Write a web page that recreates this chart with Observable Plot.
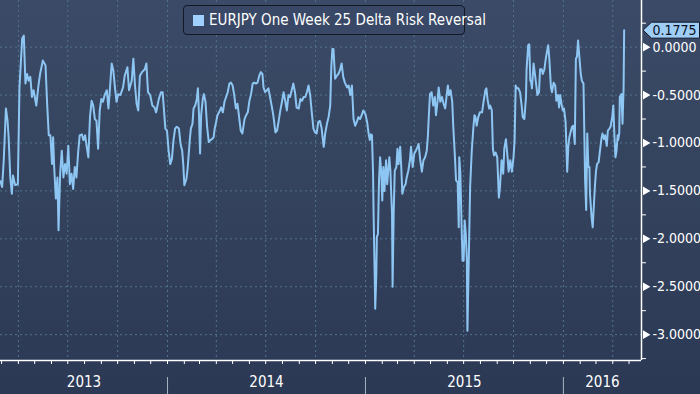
<!DOCTYPE html>
<html>
<head>
<meta charset="utf-8">
<script src="https://cdn.jsdelivr.net/npm/d3@7"></script>
<script src="https://cdn.jsdelivr.net/npm/@observablehq/plot@0.6"></script>
<style>
html,body{margin:0;padding:0;}
body{width:700px;height:394px;overflow:hidden;position:relative;
  background:linear-gradient(to bottom,#3b4a67 0%,#36455f 35%,#313f5b 65%,#2c3955 100%);
  font-family:"Liberation Sans Narrow","DejaVu Sans Condensed","Arial Narrow",sans-serif;}
#chart svg{display:block;background:transparent;}
#legend{position:absolute;left:183px;top:5px;width:282px;height:30px;box-sizing:border-box;
  border:1.5px solid #121826;border-radius:4px;background:#384866;display:flex;align-items:center;
  color:#ffffff;font-size:15px;white-space:nowrap;}
#legend .sw{width:11px;height:11px;background:#a0d0ff;margin:0 5px 0 9px;flex:none;}
</style>
</head>
<body>
<div id="chart"></div>
<div id="legend"><span class="sw"></span><span id="legendText"></span></div>
<script>
const seriesName = "EURJPY One Week 25 Delta Risk Reversal";

const dates = [
"2013-02-27","2013-03-02","2013-03-05","2013-03-09","2013-03-12","2013-03-14","2013-03-17","2013-03-20","2013-03-22","2013-03-26",
"2013-03-31","2013-04-03","2013-04-08","2013-04-11","2013-04-14","2013-04-17","2013-04-20","2013-04-23","2013-04-26","2013-04-29",
"2013-05-04","2013-05-08","2013-05-11","2013-05-16","2013-05-21","2013-05-24","2013-05-27","2013-05-30","2013-06-02","2013-06-04",
"2013-06-06","2013-06-09","2013-06-12","2013-06-14","2013-06-17","2013-06-20","2013-06-23","2013-06-26","2013-06-29","2013-07-02",
"2013-07-05","2013-07-08","2013-07-11","2013-07-14","2013-07-17","2013-07-20","2013-07-23","2013-07-27","2013-07-30","2013-08-02",
"2013-08-05","2013-08-08","2013-08-11","2013-08-14","2013-08-17","2013-08-20","2013-08-23","2013-08-26","2013-08-29","2013-09-01",
"2013-09-04","2013-09-07","2013-09-11","2013-09-14","2013-09-17","2013-09-20","2013-09-23","2013-09-26","2013-09-29","2013-10-02",
"2013-10-06","2013-10-11","2013-10-14","2013-10-19","2013-10-22","2013-10-27","2013-10-30","2013-11-02","2013-11-05","2013-11-08",
"2013-11-11","2013-11-15","2013-11-20","2013-11-23","2013-11-26","2013-11-30","2013-12-04","2013-12-08","2013-12-11","2013-12-16",
"2013-12-20","2013-12-23","2013-12-28","2013-12-31","2014-01-03","2014-01-06","2014-01-09","2014-01-12","2014-01-15","2014-01-18",
"2014-01-22","2014-01-25","2014-01-28","2014-01-30","2014-02-01","2014-02-05","2014-02-07","2014-02-11","2014-02-13","2014-02-16",
"2014-02-18","2014-02-21","2014-02-24","2014-02-26","2014-02-28","2014-03-02","2014-03-04","2014-03-07","2014-03-09","2014-03-12",
"2014-03-15","2014-03-18","2014-03-21","2014-03-24","2014-03-27","2014-03-29","2014-03-31","2014-04-03","2014-04-06","2014-04-10",
"2014-04-13","2014-04-16","2014-04-19","2014-04-22","2014-04-25","2014-04-28","2014-05-01","2014-05-04","2014-05-07","2014-05-10",
"2014-05-13","2014-05-16","2014-05-19","2014-05-23","2014-05-26","2014-05-29","2014-06-01","2014-06-04","2014-06-07","2014-06-10",
"2014-06-13","2014-06-16","2014-06-19","2014-06-22","2014-06-25","2014-06-27","2014-06-30","2014-07-03","2014-07-06","2014-07-09",
"2014-07-12","2014-07-15","2014-07-19","2014-07-22","2014-07-25","2014-07-28","2014-07-31","2014-08-03","2014-08-06","2014-08-09",
"2014-08-12","2014-08-15","2014-08-18","2014-08-21","2014-08-24","2014-08-27","2014-08-31","2014-09-03","2014-09-06","2014-09-09",
"2014-09-12","2014-09-15","2014-09-18","2014-09-21","2014-09-24","2014-09-27","2014-09-30","2014-10-03","2014-10-06","2014-10-09",
"2014-10-12","2014-10-16","2014-10-19","2014-10-22","2014-10-25","2014-10-28","2014-10-30","2014-11-01","2014-11-03","2014-11-06",
"2014-11-09","2014-11-12","2014-11-15","2014-11-18","2014-11-21","2014-11-24","2014-11-28","2014-12-01","2014-12-04","2014-12-07",
"2014-12-10","2014-12-13","2014-12-16","2014-12-19","2014-12-22","2014-12-25","2014-12-28","2015-01-01","2015-01-04","2015-01-07",
"2015-01-09","2015-01-11","2015-01-13","2015-01-15","2015-01-16","2015-01-18","2015-01-19","2015-01-21","2015-01-22","2015-01-24",
"2015-01-26","2015-01-28","2015-01-30","2015-02-01","2015-02-03","2015-02-05","2015-02-08","2015-02-10","2015-02-11","2015-02-14",
"2015-02-16","2015-02-17","2015-02-19","2015-02-20","2015-02-22","2015-02-24","2015-02-27","2015-03-01","2015-03-03","2015-03-06",
"2015-03-08","2015-03-10","2015-03-13","2015-03-16","2015-03-18","2015-03-21","2015-03-24","2015-03-26","2015-03-29","2015-04-01",
"2015-04-04","2015-04-07","2015-04-09","2015-04-12","2015-04-15","2015-04-18","2015-04-21","2015-04-24","2015-04-26","2015-04-28",
"2015-04-30","2015-05-03","2015-05-06","2015-05-09","2015-05-11","2015-05-14","2015-05-16","2015-05-19","2015-05-22","2015-05-25",
"2015-05-28","2015-05-31","2015-06-02","2015-06-04","2015-06-07","2015-06-10","2015-06-12","2015-06-15","2015-06-17","2015-06-20",
"2015-06-22","2015-06-23","2015-06-25","2015-06-27","2015-06-29","2015-07-01","2015-07-03","2015-07-05","2015-07-07","2015-07-08",
"2015-07-10","2015-07-13","2015-07-16","2015-07-19","2015-07-21","2015-07-23","2015-07-25","2015-07-28","2015-07-31","2015-08-04",
"2015-08-07","2015-08-10","2015-08-12","2015-08-14","2015-08-17","2015-08-19","2015-08-22","2015-08-24","2015-08-26","2015-08-29",
"2015-09-01","2015-09-04","2015-09-06","2015-09-09","2015-09-12","2015-09-14","2015-09-17","2015-09-20","2015-09-22","2015-09-25",
"2015-09-28","2015-10-01","2015-10-03","2015-10-05","2015-10-07","2015-10-10","2015-10-13","2015-10-16","2015-10-18","2015-10-21",
"2015-10-24","2015-10-25","2015-10-28","2015-10-30","2015-11-01","2015-11-02","2015-11-04","2015-11-07","2015-11-09","2015-11-12",
"2015-11-14","2015-11-17","2015-11-19","2015-11-22","2015-11-24","2015-11-27","2015-11-29","2015-12-01","2015-12-04","2015-12-06",
"2015-12-09","2015-12-11","2015-12-14","2015-12-17","2015-12-19","2015-12-22","2015-12-24","2015-12-26","2015-12-29","2015-12-31",
"2016-01-02","2016-01-05","2016-01-07","2016-01-08","2016-01-10","2016-01-12","2016-01-15","2016-01-17","2016-01-19","2016-01-22",
"2016-01-24","2016-01-26","2016-01-28","2016-01-31","2016-02-02","2016-02-04","2016-02-07","2016-02-09","2016-02-10","2016-02-12",
"2016-02-14","2016-02-16","2016-02-18","2016-02-19","2016-02-22","2016-02-24","2016-02-26","2016-02-28","2016-03-01","2016-03-03",
"2016-03-06","2016-03-08","2016-03-11","2016-03-13","2016-03-16","2016-03-18","2016-03-21","2016-03-23","2016-03-26","2016-03-28",
"2016-03-31","2016-04-02","2016-04-04","2016-04-06","2016-04-08","2016-04-10","2016-04-11","2016-04-13","2016-04-14","2016-04-17",
"2016-04-19","2016-04-21","2016-04-22"
];

const values = [
-1.40,-1.46,-1.18,-0.64,-0.77,-0.94,-1.36,-1.53,-1.34,-1.44,
-1.43,-0.42,0.09,0.12,-0.38,-0.28,-0.35,-0.31,-0.52,-0.45,
-0.61,-0.40,-0.28,-0.14,-0.19,-0.59,-0.92,-0.92,-1.22,-0.94,
-1.25,-1.58,-1.36,-1.91,-1.32,-1.08,-1.36,-1.22,-1.32,-1.03,
-1.43,-1.32,-1.48,-1.25,-1.36,-1.11,-0.92,-0.91,-0.97,-0.92,
-1.04,-1.15,-0.73,-0.56,-0.61,-0.75,-0.77,-1.06,-0.66,-0.54,
-0.57,-0.50,-0.45,-0.64,-0.42,-0.17,-0.24,-0.42,-0.57,-0.49,
-0.50,-0.42,-0.30,-0.21,-0.45,-0.35,-0.12,-0.40,-0.59,-0.66,
-0.30,-0.26,-0.23,-0.17,-0.47,-0.50,-0.61,-0.63,-0.68,-0.54,
-0.47,-0.47,-0.85,-0.87,-1.08,-1.22,-1.17,-0.97,-0.85,-0.83,
-0.85,-1.01,-1.08,-1.22,-1.44,-1.37,-1.27,-0.97,-0.85,-0.80,
-0.64,-0.61,-0.54,-0.43,-0.70,-1.11,-0.71,-0.54,-0.49,-0.57,
-0.83,-0.99,-0.97,-0.96,-0.94,-0.85,-0.80,-0.71,-0.68,-0.63,
-0.68,-0.57,-0.52,-0.47,-0.38,-0.37,-0.40,-0.50,-0.64,-0.59,
-0.73,-0.87,-0.90,-0.75,-0.71,-0.68,-0.56,-0.49,-0.38,-0.37,
-0.38,-0.37,-0.30,-0.26,-0.28,-0.42,-0.47,-0.45,-0.43,-0.52,
-0.61,-0.71,-0.89,-0.87,-0.77,-0.66,-0.57,-0.47,-0.56,-0.66,
-0.50,-0.52,-0.45,-0.38,-0.47,-0.63,-0.64,-0.54,-0.56,-0.52,
-0.52,-0.47,-0.40,-0.50,-0.68,-0.85,-0.89,-0.90,-0.78,-0.77,
-0.84,-1.04,-0.89,-0.80,-0.73,-0.61,-0.21,-0.02,-0.02,-0.33,
-0.30,-0.28,-0.24,-0.17,-0.31,-0.37,-0.42,-0.40,-0.50,-0.40,
-0.75,-0.82,-0.78,-0.73,-0.75,-0.71,-0.66,-0.70,-0.78,-0.91,
-0.97,-0.91,-0.92,-1.32,-1.74,-2.37,-2.73,-2.37,-1.98,-1.95,
-1.39,-1.15,-1.29,-1.60,-1.25,-1.50,-1.18,-1.43,-1.36,-1.15,
-1.29,-1.46,-1.74,-2.50,-1.74,-1.29,-1.25,-1.06,-1.22,-1.04,
-1.25,-1.53,-1.46,-1.43,-1.36,-1.29,-1.18,-1.04,-1.25,-1.11,
-1.08,-1.04,-1.01,-1.18,-1.30,-1.18,-1.15,-1.08,-0.94,-0.70,
-0.49,-0.47,-0.61,-0.52,-0.71,-0.56,-0.42,-0.57,-0.52,-0.59,
-0.64,-0.49,-0.40,-0.50,-0.45,-0.57,-0.84,-1.15,-1.39,-1.41,
-1.88,-1.15,-1.32,-1.81,-2.23,-2.23,-1.81,-1.95,-2.23,-2.96,
-2.37,-1.46,-1.08,-0.84,-0.71,-0.73,-0.82,-0.73,-0.68,-0.68,
-0.56,-0.45,-0.43,-0.54,-0.64,-0.61,-0.66,-1.06,-1.13,-1.10,
-1.15,-1.57,-1.46,-1.18,-1.32,-1.06,-0.96,-1.15,-1.30,-1.18,
-1.30,-1.15,-0.97,-0.40,-0.43,-0.43,-0.47,-0.61,-0.73,-0.75,
-0.52,-0.24,0.02,0.03,-0.35,-0.35,-0.43,-0.17,-0.26,-0.40,
-0.50,-0.47,-0.23,-0.23,-0.28,-0.23,-0.14,-0.07,0.02,-0.12,
-0.42,-0.47,-0.37,-0.40,-0.56,-0.50,-0.63,-0.50,-0.61,-0.66,
-0.64,-0.78,-1.11,-1.30,-1.04,-0.94,-0.87,-0.83,-0.82,-1.01,
-0.12,-0.10,0.07,-0.14,-0.28,-0.35,-0.38,-1.04,-1.39,-1.70,
-0.90,-1.25,-1.25,-1.53,-1.78,-1.88,-1.67,-1.46,-1.30,-1.22,
-1.20,-1.10,-0.96,-0.90,-0.96,-0.92,-1.03,-0.87,-0.85,-0.83,
-0.73,-0.61,-0.92,-1.15,-1.08,-0.92,-0.97,-0.90,-0.52,-0.49,
-0.80,-0.42,0.1775
];

const xDomainDates = ["2013-02-27","2016-05-24"];
const yDomainValues = [-3.27, 0.487];
const yMajor = [0, -0.5, -1, -1.5, -2, -2.5, -3];
const yMinor = [0.25, -0.25, -0.75, -1.25, -1.75, -2.25, -2.75, -3.25];
const yearLabels = ["2013", "2014", "2015", "2016"];

const data = dates.map((d, i) => ({date: new Date(d), value: values[i]}));
const xDomain = xDomainDates.map(d => new Date(d));
const monthTicks = d3.utcMonth.range(xDomain[0], xDomain[1]);
const quarterTicks = d3.utcMonth.every(3).range(xDomain[0], xDomain[1]);
const yearStarts = d3.utcYear.range(xDomain[0], xDomain[1]);
const yearMid = y => {
  const a = Math.max(+new Date(`${y}-01-01`), +xDomain[0]);
  const b = Math.min(+new Date(`${+y + 1}-01-01`), +xDomain[1]);
  return new Date((a + b) / 2);
};

const FONT = `"Liberation Sans Narrow","DejaVu Sans Condensed","Arial Narrow",sans-serif`;
const last = data[data.length - 1];

// tag shape for the last-value label (pointer at the axis, box to the right)
const tagSymbol = {
  draw(ctx) {
    ctx.moveTo(1.5, 0);
    ctx.lineTo(10, -8);
    ctx.lineTo(58, -8);
    ctx.lineTo(58, 8);
    ctx.lineTo(10, 8);
    ctx.closePath();
  }
};

const chart = Plot.plot({
  width: 700,
  height: 394,
  marginLeft: 0,
  marginRight: 59,
  marginTop: 0,
  marginBottom: 34,
  style: {background: "transparent", color: "white", fontFamily: FONT, fontSize: "14px", overflow: "visible"},
  x: {type: "utc", domain: xDomain, label: null},
  y: {domain: yDomainValues, label: null},
  marks: [
    Plot.gridX(quarterTicks, {stroke: "#52738d", strokeOpacity: 1, strokeDasharray: "2,3"}),
    Plot.gridY(yMajor, {stroke: "#52738d", strokeOpacity: 1, strokeDasharray: "2,3"}),
    Plot.line(data, {x: "date", y: "value", stroke: "#8ec6f3", strokeWidth: 2}),
    Plot.ruleX([xDomain[1]], {stroke: "white", strokeWidth: 1.5}),
    Plot.ruleY([yDomainValues[0]], {stroke: "white", strokeWidth: 1.5}),
    Plot.axisY(yMinor, {anchor: "right", label: null, tickSize: 4, tickFormat: () => "", stroke: "white"}),
    Plot.axisY(yMajor, {anchor: "right", label: null, tickSize: 0, tickPadding: 11, tickFormat: d => d.toFixed(4), fill: "white", fontSize: 14}),
    Plot.dot(yMajor, {x: () => xDomain[1], y: d => d, symbol: "triangle", rotate: 90, r: 3.2, fill: "white", dx: 4}),
    Plot.axisX(monthTicks, {label: null, tickSize: 4, tickFormat: () => "", stroke: "white"}),
    Plot.axisX(yearStarts, {label: null, tickSize: 17, dy: 17, tickFormat: () => "", stroke: "#a9b3c2"}),
    Plot.text(yearLabels, {x: yearMid, text: d => d, frameAnchor: "bottom", dy: 26, fill: "white", fontSize: 15}),
    Plot.dot([last], {x: () => xDomain[1], y: "value", symbol: tagSymbol, r: 5, fill: "#9ecdf6", stroke: "#101726", strokeWidth: 1}),
    Plot.text([last], {x: () => xDomain[1], y: "value", text: d => d.value.toFixed(4), dx: 11, textAnchor: "start", fill: "#0a1020", fontSize: 14})
  ]
});
document.getElementById("chart").appendChild(chart);
document.getElementById("legendText").textContent = seriesName;
</script>
</body>
</html>
